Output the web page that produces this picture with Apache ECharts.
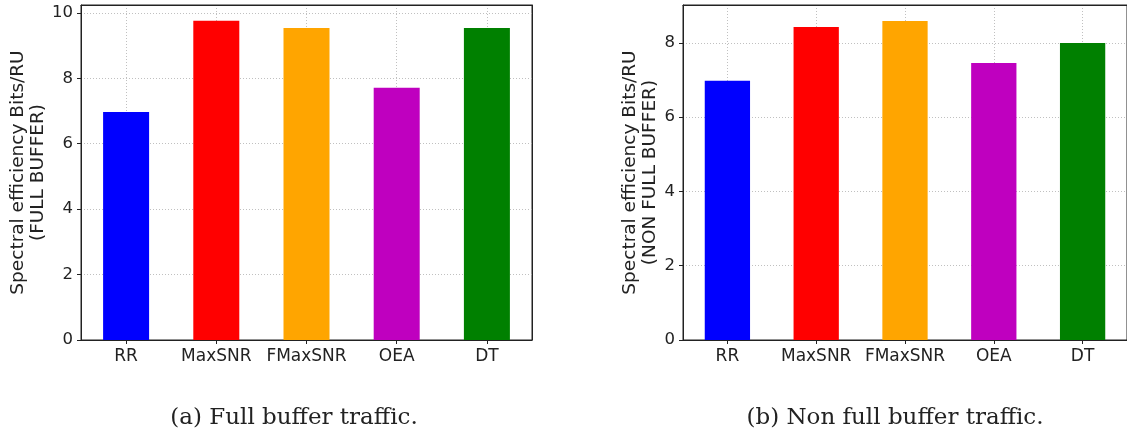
<!DOCTYPE html>
<html>
<head>
<meta charset="utf-8">
<script src="https://cdn.jsdelivr.net/npm/echarts@6/dist/echarts.min.js"></script>
<style>
html,body{margin:0;padding:0;background:#fff;}
#c{width:1127px;height:437px;}
</style>
</head>
<body>
<div id="c"></div>
<script>
const categories = ['RR', 'MaxSNR', 'FMaxSNR', 'OEA', 'DT'];
const barColors = ['#0000ff', '#ff0000', '#ffa500', '#bf00bf', '#008000'];
const fullBuffer = [6.97, 9.76, 9.54, 7.71, 9.54];
const nonFullBuffer = [6.98, 8.43, 8.59, 7.46, 8.00];
const leftTicks = [0, 2, 4, 6, 8, 10];
const rightTicks = [0, 2, 4, 6, 8];
const leftYLabel = 'Spectral efficiency Bits/RU\n(FULL BUFFER)';
const rightYLabel = 'Spectral efficiency Bits/RU\n(NON FULL BUFFER)';
const captionA = '(a) Full buffer traffic.';
const captionB = '(b) Non full buffer traffic.';

const chart = echarts.init(document.getElementById('c'), null, {renderer: 'canvas'});
const FONT = 'DejaVu Sans';
const ink = '#222';
const gridLine = {show: true, lineStyle: {color: '#b0b0b0', type: [1, 2], width: 0.8}};

function xAxes(gi) {
  return [{
    type: 'category', gridIndex: gi, data: categories,
    axisLine: {show: true, lineStyle: {color: ink, width: 1}},
    axisTick: {show: true, alignWithLabel: true, length: 4, lineStyle: {color: ink}},
    axisLabel: {fontFamily: FONT, fontSize: 17, color: ink, margin: 8, interval: 0},
    splitLine: Object.assign({alignWithLabel: true}, gridLine)
  }, {
    type: 'category', gridIndex: gi, position: 'top', data: categories, z: 10,
    axisLine: {show: true, onZero: false, lineStyle: {color: ink, width: 1}},
    axisTick: {show: false}, axisLabel: {show: false}, splitLine: {show: false}
  }];
}
function yAxes(gi, max, ticks, name, gap) {
  return [{
    type: 'value', gridIndex: gi, min: 0, max: max, interval: 2,
    name: name, nameLocation: 'middle', nameRotate: 90, nameGap: gap,
    nameTextStyle: {fontFamily: FONT, fontSize: 18.5, color: ink, lineHeight: 20},
    axisLine: {show: true, lineStyle: {color: ink, width: 1}},
    axisTick: {show: true, length: 4, lineStyle: {color: ink}, customValues: ticks},
    axisLabel: {fontFamily: FONT, fontSize: 16.5, color: ink, margin: 8, customValues: ticks},
    splitLine: gridLine
  }, {
    type: 'value', gridIndex: gi, min: 0, max: max, position: 'right', z: 10,
    axisLine: {show: true, onZero: false, lineStyle: {color: ink, width: 1}},
    axisTick: {show: false}, axisLabel: {show: false}, splitLine: {show: false}
  }];
}
function barData(vals) {
  return vals.map((v, i) => ({value: v, itemStyle: {color: barColors[i]}}));
}

const option = {
  animation: false,
  backgroundColor: '#fff',
  grid: [
    {left: 81, top: 5, width: 451, height: 335, show: true, borderColor: ink, borderWidth: 1, backgroundColor: 'transparent'},
    {left: 683, top: 5, width: 451, height: 335, show: true, borderColor: ink, borderWidth: 1, backgroundColor: 'transparent'}
  ],
  xAxis: [...xAxes(0), ...xAxes(1)],
  yAxis: [...yAxes(0, 10.24, leftTicks, leftYLabel, 30), ...yAxes(1, 9.02, rightTicks, rightYLabel, 22)],
  series: [
    {type: 'bar', xAxisIndex: 0, yAxisIndex: 0, barWidth: '51%', data: barData(fullBuffer), z: 2},
    {type: 'bar', xAxisIndex: 2, yAxisIndex: 2, barWidth: '51%', data: barData(nonFullBuffer), z: 2}
  ],
  graphic: [
    {type: 'text', x: 294, y: 418, style: {text: captionA, font: '23px "DejaVu Serif"', fill: ink, textAlign: 'center', textVerticalAlign: 'middle'}},
    {type: 'text', x: 895, y: 418, style: {text: captionB, font: '23px "DejaVu Serif"', fill: ink, textAlign: 'center', textVerticalAlign: 'middle'}}
  ]
};
chart.setOption(option);
</script>
</body>
</html>
